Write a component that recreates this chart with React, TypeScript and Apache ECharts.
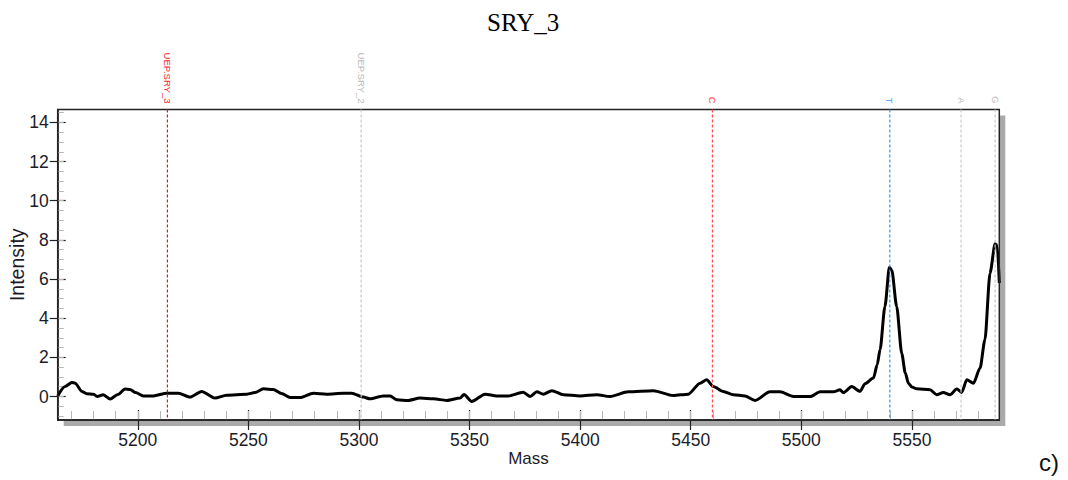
import React, { useEffect, useRef } from "react";
import * as echarts from "echarts";

// ---------- data ----------
const MASS = [
  5163.8, 5167.1, 5170.2, 5171.7, 5174.7, 5176.9, 5179.9, 5181.7, 5184.4, 5187.5,
  5191.0, 5194.3, 5196.5, 5199.0, 5202.5, 5207.1, 5213.1, 5218.4, 5223.6, 5228.9,
  5234.9, 5240.2, 5249.3, 5253.0, 5256.8, 5261.3, 5265.0, 5268.9, 5273.4, 5279.4,
  5285.4, 5292.9, 5296.7, 5302.0, 5305.0, 5311.0, 5314.1, 5317.1, 5322.3, 5327.6,
  5333.6, 5339.7, 5345.7, 5347.5, 5351.0, 5357.0, 5362.3, 5367.5, 5374.3, 5377.4,
  5380.4, 5383.4, 5387.2, 5392.4, 5400.0, 5407.5, 5413.5, 5421.8, 5433.1, 5442.1,
  5448.9, 5454.2, 5457.2, 5460.2, 5464.7, 5469.3, 5474.5, 5479.1, 5485.8, 5490.4,
  5496.4, 5504.0, 5508.5, 5514.5, 5517.5, 5519.0, 5522.8, 5526.5, 5528.8, 5532.6,
  5534.3, 5535.6, 5537.8, 5539.8, 5540.9, 5543.1, 5545.4, 5547.0, 5548.4, 5550.0,
  5552.2, 5558.2, 5561.2, 5564.2, 5567.2, 5570.3, 5572.5, 5574.8, 5577.8, 5580.8,
  5583.0, 5585.3, 5587.6, 5588.6, 5589.5,
];
const INTENSITY = [
  0.03, 0.51, 0.72, 0.68, 0.26, 0.14, 0.12, 0.0, 0.09, -0.13,
  0.1, 0.38, 0.36, 0.2, 0.03, 0.03, 0.17, 0.17, -0.03, 0.26,
  -0.08, 0.07, 0.12, 0.2, 0.39, 0.36, 0.15, -0.05, -0.05, 0.17,
  0.12, 0.17, 0.17, -0.03, -0.12, 0.03, 0.03, -0.17, -0.2, -0.08,
  -0.12, -0.2, -0.08, 0.1, -0.25, 0.12, 0.03, 0.03, 0.22, 0.0,
  0.24, 0.12, 0.3, 0.09, 0.03, 0.09, 0.0, 0.24, 0.3, 0.05,
  0.12, 0.68, 0.85, 0.51, 0.26, 0.09, 0.03, -0.2, 0.24, 0.24,
  0.0, 0.0, 0.24, 0.24, 0.34, 0.2, 0.51, 0.26, 0.65, 0.94,
  1.62, 2.4, 4.6, 6.6, 6.45, 4.6, 2.2, 1.2, 0.68, 0.48,
  0.39, 0.34, 0.09, 0.21, 0.09, 0.38, 0.21, 0.85, 0.68, 1.45,
  2.9, 6.3, 7.8, 7.7, 5.8,
];

const MARKER_NAMES = ["UEP.SRY_3", "UEP.SRY_2", "C", "T", "A", "G"];
const MARKER_MASSES = [5213.4, 5301.0, 5459.8, 5540.0, 5572.2, 5587.6];

const X_MAJOR = [5200, 5250, 5300, 5350, 5400, 5450, 5500, 5550];
const X_MINOR = Array.from({ length: 42 }, (_, i) => 5170 + i * 10);
const Y_MAJOR = [0, 2, 4, 6, 8, 10, 12, 14];
const Y_MINOR = Array.from({ length: 32 }, (_, i) => -1 + i * 0.5);

const X_MIN = 5163.8;
const X_MAX = 5589.5;
const Y_MIN = -1.2;
const Y_MAX = 14.66;

// ---------- style ----------
const MARKER_LINE_COLORS = ["#f01020", "#c8c8c8", "#ff4d4d", "#3399e6", "#c8c8c8", "#c8c8c8"];
const MARKER_TEXT_COLORS = ["#f02a2a", "#b8b8b8", "#ff4040", "#3399e6", "#bdbdbd", "#bdbdbd"];
const FONT = '"Liberation Sans", Arial, sans-serif';
const L = 57.7;
const T = 109.5;
const R = 999.3;
const B = 420;
const W = 1068;
const H = 480;

export default function App() {
  const ref = useRef<HTMLDivElement>(null);

  useEffect(() => {
    if (!ref.current) return;
    const chart = echarts.init(ref.current, undefined, { renderer: "svg" });

    const commonX = {
      type: "value",
      min: X_MIN,
      max: X_MAX,
      position: "bottom",
      splitLine: { show: false },
    };
    const commonY = {
      type: "value",
      min: Y_MIN,
      max: Y_MAX,
      position: "left",
      splitLine: { show: false },
    };
    const plain = (v: number) => String(v);

    chart.setOption({
      animation: false,
      title: {
        text: "SRY_3",
        left: 482,
        top: 5,
        textStyle: {
          fontFamily: '"Liberation Serif", "Times New Roman", serif',
          fontSize: 25,
          fontWeight: "normal",
          color: "#000",
        },
      },
      grid: {
        left: L,
        top: T,
        right: W - R,
        bottom: H - B,
        containLabel: false,
        outerBoundsMode: "none",
      },
      xAxis: [
        {
          ...commonX,
          axisLine: { show: true, onZero: false, lineStyle: { color: "#111", width: 1.5 } },
          axisTick: {
            show: true,
            inside: false,
            length: 10,
            customValues: X_MAJOR,
            lineStyle: { color: "#222", width: 1.2 },
          },
          axisLabel: {
            customValues: X_MAJOR,
            formatter: plain,
            margin: 11,
            fontSize: 17.5,
            color: "#1c1c28",
            fontFamily: FONT,
          },
          name: "Mass",
          nameLocation: "middle",
          nameGap: 30,
          nameMoveOverlap: false,
          nameTextStyle: { fontSize: 17, color: "#1c1c28", fontFamily: FONT },
        },
        {
          ...commonX,
          axisLine: { show: false, onZero: false },
          axisTick: {
            show: true,
            inside: true,
            length: 10,
            customValues: X_MAJOR,
            lineStyle: { color: "#222", width: 1.2 },
          },
          axisLabel: { show: false },
        },
        {
          ...commonX,
          axisLine: { show: false, onZero: false },
          axisTick: {
            show: true,
            inside: true,
            length: 9,
            customValues: X_MINOR,
            lineStyle: { color: "#b8b8b8", width: 1 },
          },
          axisLabel: { show: false },
        },
      ],
      yAxis: [
        {
          ...commonY,
          axisLine: { show: true, onZero: false, lineStyle: { color: "#111", width: 1.5 } },
          axisTick: {
            show: true,
            inside: false,
            length: 8,
            customValues: Y_MAJOR,
            lineStyle: { color: "#222", width: 1.2 },
          },
          axisLabel: {
            customValues: Y_MAJOR,
            formatter: plain,
            margin: 9,
            fontSize: 17.5,
            color: "#1c1c28",
            fontFamily: FONT,
          },
          name: "Intensity",
          nameLocation: "middle",
          nameRotate: 90,
          nameGap: 31,
          nameMoveOverlap: false,
          nameTextStyle: { fontSize: 19.5, color: "#1c1c28", fontFamily: FONT },
        },
        {
          ...commonY,
          axisLine: { show: false, onZero: false },
          axisTick: {
            show: true,
            inside: true,
            length: 8,
            customValues: Y_MAJOR,
            lineStyle: { color: "#222", width: 1.2 },
          },
          axisLabel: { show: false },
        },
        {
          ...commonY,
          axisLine: { show: false, onZero: false },
          axisTick: {
            show: true,
            inside: true,
            length: 6,
            customValues: Y_MINOR,
            lineStyle: { color: "#b8b8b8", width: 1 },
          },
          axisLabel: { show: false },
        },
      ],
      series: [
        {
          type: "line",
          xAxisIndex: 0,
          yAxisIndex: 0,
          data: MASS.map((m, i) => [m, INTENSITY[i]]),
          showSymbol: false,
          symbol: "none",
          smooth: 0.25,
          smoothMonotone: "x",
          lineStyle: { color: "#000", width: 3 },
        },
      ],
    });

    const markerGraphics: any[] = [];
    MARKER_MASSES.forEach((m, i) => {
      const px = chart.convertToPixel({ xAxisIndex: 0 }, m) as number;
      const top = chart.convertToPixel({ yAxisIndex: 0 }, Y_MAX) as number;
      const bottom = chart.convertToPixel({ yAxisIndex: 0 }, Y_MIN) as number;
      markerGraphics.push({
        type: "line",
        z: 15,
        silent: true,
        shape: { x1: px, y1: top, x2: px, y2: bottom },
        style: { stroke: MARKER_LINE_COLORS[i], lineWidth: 1.2, lineDash: [3, 2] },
      });
      markerGraphics.push({
        type: "text",
        x: px,
        y: top - 6,
        rotation: -Math.PI / 2,
        z: 20,
        style: {
          text: MARKER_NAMES[i],
          fill: MARKER_TEXT_COLORS[i],
          font: `9.5px ${FONT}`,
          textAlign: "right",
          align: "right",
          textVerticalAlign: "middle",
          verticalAlign: "middle",
        },
      });
    });

    chart.setOption({
      graphic: [
        {
          type: "rect",
          z: -11,
          shape: { x: L + 6, y: T + 6, width: R - L, height: B - T },
          style: { fill: "#aaaaaa" },
          silent: true,
        },
        {
          type: "rect",
          z: -10,
          shape: { x: L, y: T, width: R - L, height: B - T },
          style: { fill: "#ffffff" },
          silent: true,
        },
        {
          type: "rect",
          z: 10,
          shape: { x: L, y: T, width: R - L, height: B - T },
          style: { fill: "transparent", stroke: "#222", lineWidth: 1.5 },
          silent: true,
        },
        {
          type: "text",
          x: 1039,
          y: 450,
          style: {
            text: "c)",
            fill: "#111",
            font: `24px ${FONT}`,
            textAlign: "left",
            align: "left",
            textVerticalAlign: "top",
            verticalAlign: "top",
          },
        },
        ...markerGraphics,
      ],
    });

    return () => chart.dispose();
  }, []);

  return (
    <div
      ref={ref}
      style={{ position: "fixed", left: 0, top: 0, width: W, height: H, background: "#fff" }}
    />
  );
}
